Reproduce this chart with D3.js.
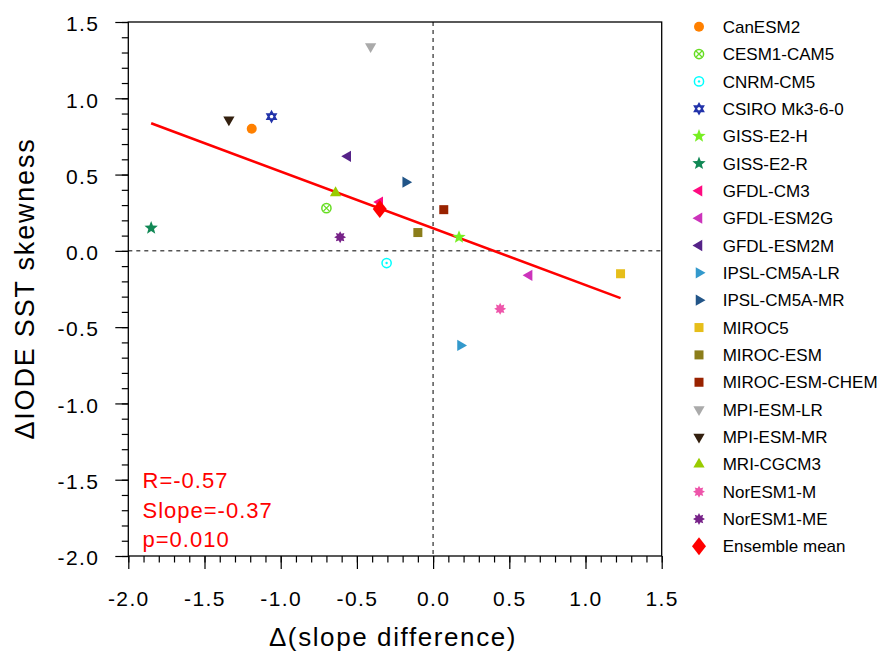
<!DOCTYPE html>
<html>
<head>
<meta charset="utf-8">
<script src="https://cdn.jsdelivr.net/npm/d3@7"></script>
<style>
  body { margin: 0; background: #fff; }
  text { font-family: "Liberation Sans", Arial, sans-serif; }
</style>
</head>
<body>
<div id="chart"></div>
<script>
// model names, x = delta slope difference, y = delta IODE SST skewness
const models = ["CanESM2", "CESM1-CAM5", "CNRM-CM5", "CSIRO Mk3-6-0", "GISS-E2-H", "GISS-E2-R",
  "GFDL-CM3", "GFDL-ESM2G", "GFDL-ESM2M", "IPSL-CM5A-LR", "IPSL-CM5A-MR", "MIROC5",
  "MIROC-ESM", "MIROC-ESM-CHEM", "MPI-ESM-LR", "MPI-ESM-MR", "MRI-CGCM3", "NorESM1-M", "NorESM1-ME"];
const slopeDiff = [-1.19, -0.70, -0.305, -1.06, 0.17, -1.85, -0.35, 0.63, -0.56, 0.18, -0.18, 1.23,
  -0.10, 0.07, -0.41, -1.34, -0.64, 0.44, -0.61];
const sstSkew = [0.80, 0.28, -0.08, 0.88, 0.09, 0.15, 0.32, -0.16, 0.62, -0.62, 0.45, -0.15,
  0.12, 0.27, 1.34, 0.86, 0.38, -0.38, 0.09];
const ensembleMean = [-0.35, 0.275];
const statsText = ["R=-0.57", "Slope=-0.37", "p=0.010"];
const xTicks = [-2.0, -1.5, -1.0, -0.5, 0.0, 0.5, 1.0, 1.5];
const yTicks = [-2.0, -1.5, -1.0, -0.5, 0.0, 0.5, 1.0, 1.5];

const colors = ["#ff8000", "#66dd22", "#00ffff", "#2233aa", "#77ee22", "#118855",
  "#ff0a80", "#cc33bb", "#552288", "#3399cc", "#225588", "#e6be1a",
  "#8b7d1a", "#992200", "#aaaaaa", "#33200f", "#99cc00", "#ee55aa", "#772288"];
const shapes = ["circle", "circlex", "circledot", "hexagram", "star", "star",
  "tleft", "tleft", "tleft", "tright", "tright", "square",
  "square", "square", "tdown", "tdown", "tup", "burst", "burst"];

const W = 880, H = 652;
const pLeft = 128.3, pRight = 661.7, pTop = 22, pBottom = 556;

const svg = d3.select("#chart").append("svg")
  .attr("width", W).attr("height", H);

const x = d3.scaleLinear().domain([-2, 1.5]).range([pLeft, pRight]);
const y = d3.scaleLinear().domain([-2, 1.5]).range([pBottom, pTop]);
const fmt = d => d.toFixed(1);

// marker paths centred on 0,0
const tri = d3.symbol(d3.symbolTriangle, 55)();
function starPath(n, ro, ri, rot) {
  const pts = [];
  for (let i = 0; i < 2 * n; i++) {
    const a = rot + i * Math.PI / n;
    const r = i % 2 === 0 ? ro : ri;
    pts.push([r * Math.sin(a), -r * Math.cos(a)]);
  }
  return "M" + pts.map(p => p[0].toFixed(2) + "," + p[1].toFixed(2)).join("L") + "Z";
}

function drawMarker(g, shape, color) {
  if (shape === "circle") {
    g.append("circle").attr("r", 5).attr("fill", color);
  } else if (shape === "circlex") {
    g.append("circle").attr("r", 4.6).attr("fill", "none").attr("stroke", color).attr("stroke-width", 1.5);
    g.append("path").attr("d", "M-3,-3L3,3M-3,3L3,-3").attr("stroke", color).attr("stroke-width", 1.3);
  } else if (shape === "circledot") {
    g.append("circle").attr("r", 4.6).attr("fill", "none").attr("stroke", color).attr("stroke-width", 1.5);
    g.append("circle").attr("r", 1.2).attr("fill", color);
  } else if (shape === "hexagram") {
    const r = 5;
    const t1 = d3.range(3).map(i => [r * Math.sin(i * 2 * Math.PI / 3), -r * Math.cos(i * 2 * Math.PI / 3)]);
    const t2 = t1.map(p => [p[0], -p[1]]);
    const d = "M" + t1.join("L") + "Z M" + t2.join("L") + "Z";
    g.append("path").attr("d", d).attr("fill", "none").attr("stroke", color).attr("stroke-width", 1.8);
  } else if (shape === "star") {
    g.append("path").attr("d", starPath(5, 7, 3, 0)).attr("fill", color);
  } else if (shape === "burst") {
    g.append("path").attr("d", starPath(8, 6, 3.6, 0)).attr("fill", color);
  } else if (shape === "square") {
    g.append("rect").attr("x", -4.5).attr("y", -4.5).attr("width", 9).attr("height", 9).attr("fill", color);
  } else if (shape === "diamond") {
    g.append("path").attr("d", "M0,-9L7,0L0,9L-7,0Z").attr("fill", color);
  } else {
    const rot = { tup: 0, tdown: 180, tleft: -90, tright: 90 }[shape];
    g.append("path").attr("d", tri).attr("transform", `rotate(${rot})`).attr("fill", color);
  }
}

// zero lines
svg.append("line")
  .attr("x1", x(0)).attr("x2", x(0)).attr("y1", pTop).attr("y2", pBottom)
  .attr("stroke", "#555").attr("stroke-width", 1.5).attr("stroke-dasharray", "4,4");
svg.append("line")
  .attr("x1", pLeft).attr("x2", pRight).attr("y1", y(0)).attr("y2", y(0))
  .attr("stroke", "#555").attr("stroke-width", 1.5).attr("stroke-dasharray", "4,4");

// minor ticks
const xMinor = d3.range(-2, 1.5001, 0.1);
const yMinor = d3.range(-2, 1.5001, 0.1);
svg.append("g")
  .attr("transform", `translate(0,${pBottom})`)
  .call(d3.axisBottom(x).tickValues(xMinor).tickSize(6.5).tickFormat(""))
  .call(g => g.select(".domain").remove());
svg.append("g")
  .attr("transform", `translate(${pLeft},0)`)
  .call(d3.axisLeft(y).tickValues(yMinor).tickSize(6.5).tickFormat(""))
  .call(g => g.select(".domain").remove());

// major ticks with labels
const xAxis = svg.append("g")
  .attr("transform", `translate(0,${pBottom})`)
  .call(d3.axisBottom(x).tickValues(xTicks).tickSize(13).tickFormat(fmt));
xAxis.select(".domain").remove();
xAxis.selectAll("text")
  .attr("y", 50).attr("dy", 0)
  .style("font-size", "21px").style("letter-spacing", "1.4px").attr("fill", "#000");

const yAxis = svg.append("g")
  .attr("transform", `translate(${pLeft},0)`)
  .call(d3.axisLeft(y).tickValues(yTicks).tickSize(13).tickPadding(16).tickFormat(fmt));
yAxis.select(".domain").remove();
yAxis.selectAll("text")
  .attr("dy", "0.42em")
  .style("font-size", "21px").style("letter-spacing", "1.4px").attr("fill", "#000");
svg.selectAll(".tick line").attr("stroke", "#000").attr("stroke-width", 1.2);

// frame
svg.append("rect")
  .attr("x", pLeft).attr("y", pTop).attr("width", pRight - pLeft).attr("height", pBottom - pTop)
  .attr("fill", "none").attr("stroke", "#000").attr("stroke-width", 1.3);

// regression line from the model points
const n = slopeDiff.length;
const mx = d3.mean(slopeDiff), my = d3.mean(sstSkew);
let sxy = 0, sxx = 0;
for (let i = 0; i < n; i++) {
  sxy += (slopeDiff[i] - mx) * (sstSkew[i] - my);
  sxx += (slopeDiff[i] - mx) ** 2;
}
const b = sxy / sxx, a = my - b * mx;
const x0 = d3.min(slopeDiff), x1 = d3.max(slopeDiff);
svg.append("line")
  .attr("x1", x(x0)).attr("y1", y(a + b * x0))
  .attr("x2", x(x1)).attr("y2", y(a + b * x1))
  .attr("stroke", "#ff0000").attr("stroke-width", 2.5);

// model points
models.forEach((m, i) => {
  const g = svg.append("g").attr("transform", `translate(${x(slopeDiff[i])},${y(sstSkew[i])})`);
  drawMarker(g, shapes[i], colors[i]);
});
drawMarker(svg.append("g").attr("transform", `translate(${x(ensembleMean[0])},${y(ensembleMean[1])})`),
  "diamond", "#ff0000");

// stats text
statsText.forEach((t, i) => {
  svg.append("text")
    .attr("x", 142.5).attr("y", 488.3 + i * 29.2)
    .style("font-size", "22px").style("letter-spacing", "1px")
    .attr("fill", "#ff0000").text(t);
});

// legend
const legNames = models.concat(["Ensemble mean"]);
const legShapes = shapes.concat(["diamond"]);
const legColors = colors.concat(["#ff0000"]);
const leg = svg.append("g");
legNames.forEach((name, i) => {
  const yy = 26.7 + i * 27.35;
  drawMarker(leg.append("g").attr("transform", `translate(699,${yy})`), legShapes[i], legColors[i]);
  leg.append("text")
    .attr("x", 722.7).attr("y", yy).attr("dy", "0.36em")
    .style("font-size", "17px").attr("fill", "#000").text(name);
});

// axis titles
svg.append("text")
  .attr("transform", "translate(33.5,288.5) rotate(-90)")
  .attr("text-anchor", "middle")
  .style("font-size", "27px").style("letter-spacing", "1.8px")
  .text("\u0394IODE SST skewness");
svg.append("text")
  .attr("x", 393).attr("y", 646)
  .attr("text-anchor", "middle")
  .style("font-size", "26px").style("letter-spacing", "1.6px")
  .text("\u0394(slope difference)");
</script>
</body>
</html>
